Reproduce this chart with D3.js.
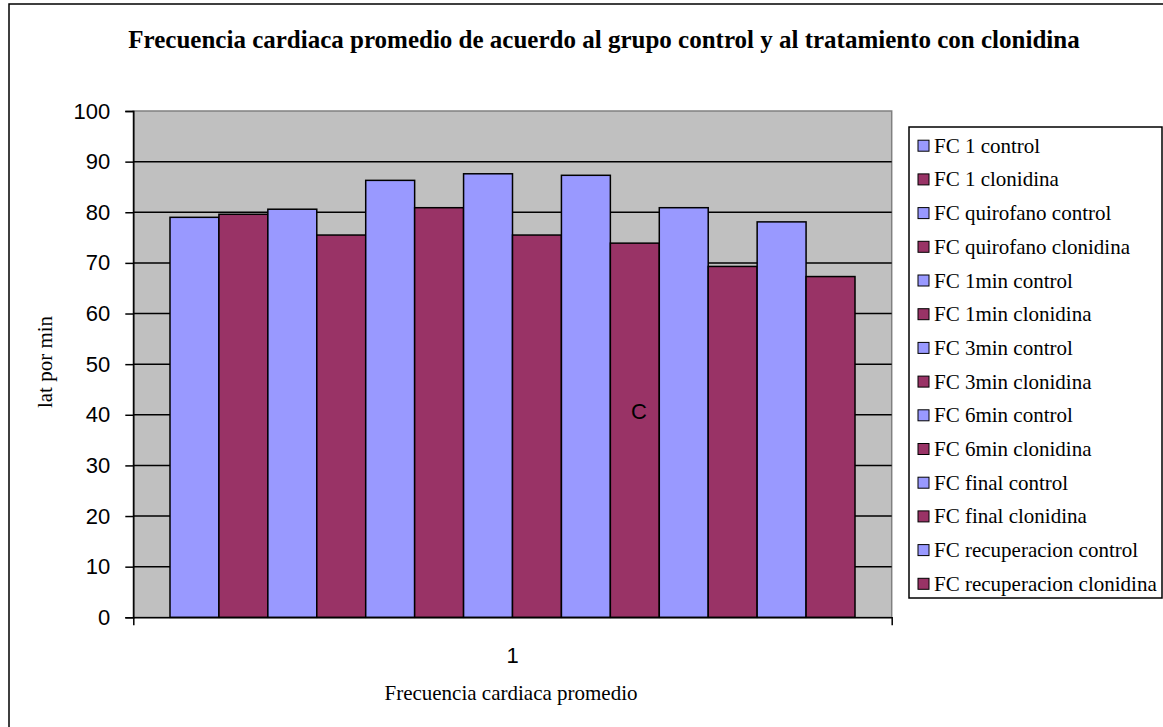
<!DOCTYPE html>
<html>
<head>
<meta charset="utf-8">
<script src="https://cdn.jsdelivr.net/npm/d3@7"></script>
<style>
  body { margin: 0; background: #fff; }
  svg { display: block; }
  .serif { font-family: "Liberation Serif", "Times New Roman", serif; }
  .sans { font-family: "Liberation Sans", Arial, sans-serif; }
</style>
</head>
<body>
<svg id="chart"></svg>
<script>
// data
var categories = ["1"]
var seriesNames = [
  "FC 1 control", "FC 1 clonidina",
  "FC quirofano control", "FC quirofano clonidina",
  "FC 1min control", "FC 1min clonidina",
  "FC 3min control", "FC 3min clonidina",
  "FC 6min control", "FC 6min clonidina",
  "FC final control", "FC final clonidina",
  "FC recuperacion control", "FC recuperacion clonidina"
]
var values = [79.0, 79.6, 80.6, 75.5, 86.3, 80.9, 87.6, 75.5, 87.3, 73.9, 80.9, 69.3, 78.1, 67.3]
var yTicks = [0, 10, 20, 30, 40, 50, 60, 70, 80, 90, 100]

var controlColor = "#9999FF"
var clonidinaColor = "#993366"

var width = 1163, height = 727
var plot = { left: 133.3, top: 111, right: 891.7, bottom: 617.3 }
var W = plot.right - plot.left, H = plot.bottom - plot.top

var svg = d3.select("#chart").attr("width", width).attr("height", height)

// outer chart border (cut off at right and bottom)
svg.append("rect")
  .attr("x", 9).attr("y", 4)
  .attr("width", 1200).attr("height", 800)
  .attr("fill", "#fff").attr("stroke", "#000").attr("stroke-width", 1.5)

// title
svg.append("text")
  .attr("class", "serif")
  .attr("x", 604).attr("y", 48)
  .attr("text-anchor", "middle")
  .style("font-size", "25px").style("font-weight", "bold")
  .text("Frecuencia cardiaca promedio de acuerdo al grupo control y al tratamiento con clonidina")

var g = svg.append("g").attr("transform", "translate(" + plot.left + "," + plot.top + ")")

// excel gap width 150%
var gapWidth = 1.5
var x0 = d3.scaleBand().domain(categories).range([0, W])
  .paddingInner(0).paddingOuter(gapWidth / 2 / seriesNames.length)
var x1 = d3.scaleBand().domain(seriesNames).range([0, x0.bandwidth()])
var y = d3.scaleLinear().domain([0, 100]).range([H, 0])

// plot area background
g.append("rect")
  .attr("width", W).attr("height", H)
  .attr("fill", "#C0C0C0").attr("stroke", "#808080").attr("stroke-width", 1.5)

// gridlines
g.selectAll("line.grid")
  .data(yTicks.filter(function (d) { return d > 0 && d < 100 }))
  .enter().append("line")
  .attr("class", "grid")
  .attr("x1", 0).attr("x2", W)
  .attr("y1", function (d) { return y(d) }).attr("y2", function (d) { return y(d) })
  .attr("stroke", "#000").attr("stroke-width", 1.5)

// bars
var bars = seriesNames.map(function (name, i) {
  return { name: name, value: values[i], cat: categories[0], i: i }
})

g.selectAll("rect.bar")
  .data(bars)
  .enter().append("rect")
  .attr("class", "bar")
  .attr("x", function (d) { return x0(d.cat) + x1(d.name) })
  .attr("y", function (d) { return y(d.value) })
  .attr("width", x1.bandwidth())
  .attr("height", function (d) { return H - y(d.value) })
  .attr("fill", function (d) { return d.i % 2 === 0 ? controlColor : clonidinaColor })
  .attr("stroke", "#000").attr("stroke-width", 1.5)

// y axis
var yAxis = g.append("g")
  .attr("class", "sans")
  .call(d3.axisLeft(y).tickValues(yTicks).tickSize(8).tickPadding(15).tickFormat(d3.format("d")))
yAxis.selectAll("path, line").attr("stroke", "#000").attr("stroke-width", 1.5)
yAxis.selectAll("text").attr("fill", "#000").style("font-size", "22px")
  .style("font-family", "'Liberation Sans', Arial, sans-serif")

// x axis
var xAxis = g.append("g")
  .attr("transform", "translate(0," + H + ")")
  .call(d3.axisBottom(x0).tickSizeInner(0).tickSizeOuter(8).tickPadding(30))
xAxis.selectAll("path, line").attr("stroke", "#000").attr("stroke-width", 1.5)
xAxis.selectAll("text").attr("fill", "#000").style("font-size", "22px")
  .style("font-family", "'Liberation Sans', Arial, sans-serif")

// axis titles
svg.append("text")
  .attr("class", "serif")
  .attr("x", 511).attr("y", 700)
  .attr("text-anchor", "middle")
  .style("font-size", "21px")
  .text("Frecuencia cardiaca promedio")

svg.append("text")
  .attr("class", "serif")
  .attr("transform", "translate(52,362) rotate(-90)")
  .attr("text-anchor", "middle")
  .style("font-size", "21px")
  .text("lat por min")

// stray label inside the plot
svg.append("text")
  .attr("class", "sans")
  .attr("x", 639).attr("y", 419)
  .attr("text-anchor", "middle")
  .style("font-size", "22px")
  .text("C")

// legend
var legend = svg.append("g").attr("transform", "translate(909,127)")
legend.append("rect")
  .attr("width", 253).attr("height", 471)
  .attr("fill", "#fff").attr("stroke", "#000").attr("stroke-width", 1.5)

var rowH = 33.7
var item = legend.selectAll("g.item")
  .data(seriesNames)
  .enter().append("g")
  .attr("class", "item")
  .attr("transform", function (d, i) { return "translate(0," + (18.7 + i * rowH) + ")" })

item.append("rect")
  .attr("x", 9).attr("y", -5.5)
  .attr("width", 11).attr("height", 11)
  .attr("fill", function (d, i) { return i % 2 === 0 ? controlColor : clonidinaColor })
  .attr("stroke", "#000").attr("stroke-width", 1)

item.append("text")
  .attr("class", "serif")
  .attr("x", 25).attr("y", 7)
  .style("font-size", "21px")
  .text(function (d) { return d })
</script>
</body>
</html>
